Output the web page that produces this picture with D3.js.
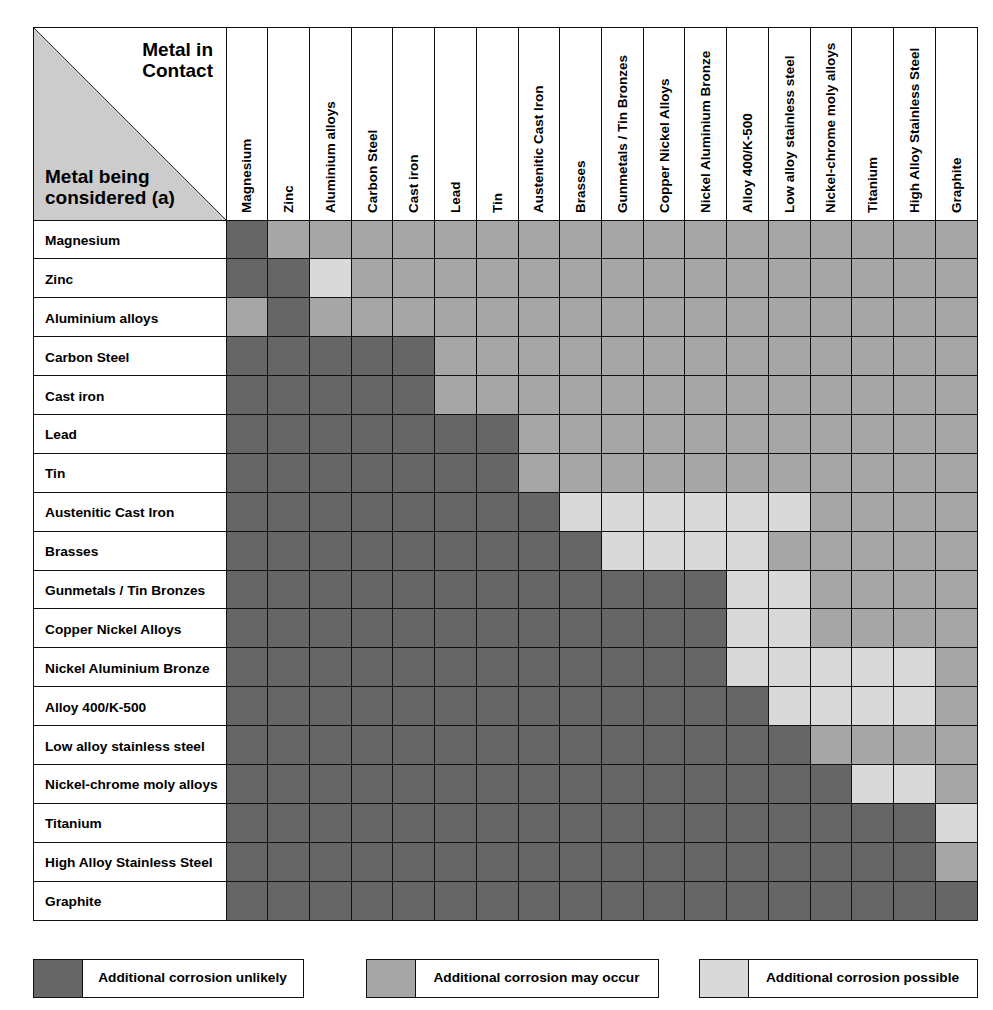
<!DOCTYPE html>
<html>
<head>
<meta charset="utf-8">
<script src="https://cdn.jsdelivr.net/npm/d3@7"></script>
<style>
  body { margin: 0; background: #fff; }
  svg { display: block; }
  text { font-family: "Liberation Sans", Arial, sans-serif; font-weight: bold; fill: #000; }
</style>
</head>
<body>
<div id="chart"></div>
<script>
// metals, same order for rows (being considered) and columns (in contact)
const metals = [
  "Magnesium", "Zinc", "Aluminium alloys", "Carbon Steel", "Cast iron", "Lead", "Tin",
  "Austenitic Cast Iron", "Brasses", "Gunmetals / Tin Bronzes", "Copper Nickel Alloys",
  "Nickel Aluminium Bronze", "Alloy 400/K-500", "Low alloy stainless steel",
  "Nickel-chrome moly alloys", "Titanium", "High Alloy Stainless Steel", "Graphite"
];

// 0 = unlikely, 1 = may occur, 2 = possible
const ratings = [
  [0,1,1,1,1,1,1,1,1,1,1,1,1,1,1,1,1,1],
  [0,0,2,1,1,1,1,1,1,1,1,1,1,1,1,1,1,1],
  [1,0,1,1,1,1,1,1,1,1,1,1,1,1,1,1,1,1],
  [0,0,0,0,0,1,1,1,1,1,1,1,1,1,1,1,1,1],
  [0,0,0,0,0,1,1,1,1,1,1,1,1,1,1,1,1,1],
  [0,0,0,0,0,0,0,1,1,1,1,1,1,1,1,1,1,1],
  [0,0,0,0,0,0,0,1,1,1,1,1,1,1,1,1,1,1],
  [0,0,0,0,0,0,0,0,2,2,2,2,2,2,1,1,1,1],
  [0,0,0,0,0,0,0,0,0,2,2,2,2,1,1,1,1,1],
  [0,0,0,0,0,0,0,0,0,0,0,0,2,2,1,1,1,1],
  [0,0,0,0,0,0,0,0,0,0,0,0,2,2,1,1,1,1],
  [0,0,0,0,0,0,0,0,0,0,0,0,2,2,2,2,2,1],
  [0,0,0,0,0,0,0,0,0,0,0,0,0,2,2,2,2,1],
  [0,0,0,0,0,0,0,0,0,0,0,0,0,0,1,1,1,1],
  [0,0,0,0,0,0,0,0,0,0,0,0,0,0,0,2,2,1],
  [0,0,0,0,0,0,0,0,0,0,0,0,0,0,0,0,0,2],
  [0,0,0,0,0,0,0,0,0,0,0,0,0,0,0,0,0,1],
  [0,0,0,0,0,0,0,0,0,0,0,0,0,0,0,0,0,0]
];

const ratingLabels = ["Additional corrosion unlikely", "Additional corrosion may occur", "Additional corrosion possible"];
const ratingColors = ["#666666", "#a6a6a6", "#d9d9d9"];

const W = 993, H = 1010;
const tLeft = 33, labelRight = 226, tRight = 977;
const tTop = 27, headerBottom = 220, tBottom = 920;

const svg = d3.select("#chart").append("svg")
  .attr("width", W)
  .attr("height", H);

const x = d3.scaleBand().domain(d3.range(metals.length)).range([labelRight, tRight]);
const y = d3.scaleBand().domain(d3.range(metals.length)).range([headerBottom, tBottom]);
const color = d3.scaleOrdinal().domain([0, 1, 2]).range(ratingColors);

// corner triangle
svg.append("path")
  .attr("d", `M${tLeft},${tTop}L${labelRight},${headerBottom}L${tLeft},${headerBottom}Z`)
  .attr("fill", "#cccccc");
svg.append("line")
  .attr("x1", tLeft).attr("y1", tTop)
  .attr("x2", labelRight).attr("y2", headerBottom)
  .attr("stroke", "#333").attr("stroke-width", 1);

const corner = svg.append("g").style("font-size", "19px");
corner.append("text").attr("x", 213).attr("y", 56).attr("text-anchor", "end").text("Metal in");
corner.append("text").attr("x", 213).attr("y", 77).attr("text-anchor", "end").text("Contact");
corner.append("text").attr("x", 45).attr("y", 183).text("Metal being");
corner.append("text").attr("x", 45).attr("y", 204).text("considered (a)");

// cells
const cells = [];
ratings.forEach((row, r) => row.forEach((v, c) => cells.push({ r, c, v })));

svg.append("g")
  .selectAll("rect")
  .data(cells)
  .join("rect")
  .attr("x", d => x(d.c))
  .attr("y", d => y(d.r))
  .attr("width", x.bandwidth())
  .attr("height", y.bandwidth())
  .attr("fill", d => color(d.v));

// grid lines
const grid = svg.append("g").attr("stroke", "#111").attr("stroke-width", 1).attr("shape-rendering", "crispEdges");
grid.selectAll("line.v")
  .data(d3.range(metals.length + 1))
  .join("line")
  .attr("class", "v")
  .attr("x1", i => i < metals.length ? x(i) : tRight)
  .attr("x2", i => i < metals.length ? x(i) : tRight)
  .attr("y1", tTop).attr("y2", tBottom);
grid.selectAll("line.h")
  .data(d3.range(metals.length + 1))
  .join("line")
  .attr("class", "h")
  .attr("y1", i => i < metals.length ? y(i) : tBottom)
  .attr("y2", i => i < metals.length ? y(i) : tBottom)
  .attr("x1", tLeft).attr("x2", tRight);
grid.append("rect")
  .attr("x", tLeft).attr("y", tTop)
  .attr("width", tRight - tLeft).attr("height", tBottom - tTop)
  .attr("fill", "none");

// column headers
svg.append("g")
  .style("font-size", "13.5px")
  .selectAll("text")
  .data(metals)
  .join("text")
  .attr("transform", (d, i) => `translate(${x(i) + x.bandwidth() / 2},213) rotate(-90)`)
  .attr("dominant-baseline", "central")
  .text(d => d);

// row labels
svg.append("g")
  .style("font-size", "13.7px")
  .selectAll("text")
  .data(metals)
  .join("text")
  .attr("x", 45)
  .attr("y", (d, i) => y(i) + y.bandwidth() / 2 + 1)
  .attr("dominant-baseline", "central")
  .text(d => d);

// legend
const legendX = [33, 366, 699];
const legendW = [270, 292, 278];
const swatchW = 49, legendY = 959, legendH = 38;

const lg = svg.append("g")
  .selectAll("g")
  .data(ratingLabels)
  .join("g")
  .attr("transform", (d, i) => `translate(${legendX[i]},${legendY})`);

lg.append("rect")
  .attr("width", swatchW).attr("height", legendH)
  .attr("fill", (d, i) => color(i));
lg.append("rect")
  .attr("width", (d, i) => legendW[i]).attr("height", legendH)
  .attr("fill", "none").attr("stroke", "#111").attr("shape-rendering", "crispEdges");
lg.append("line")
  .attr("x1", swatchW).attr("x2", swatchW)
  .attr("y1", 0).attr("y2", legendH)
  .attr("stroke", "#111").attr("shape-rendering", "crispEdges");
lg.append("text")
  .attr("x", (d, i) => swatchW + (legendW[i] - swatchW) / 2)
  .attr("y", legendH / 2 - 0.5)
  .attr("text-anchor", "middle")
  .attr("dominant-baseline", "central")
  .style("font-size", "13.7px")
  .text(d => d);
</script>
</body>
</html>
